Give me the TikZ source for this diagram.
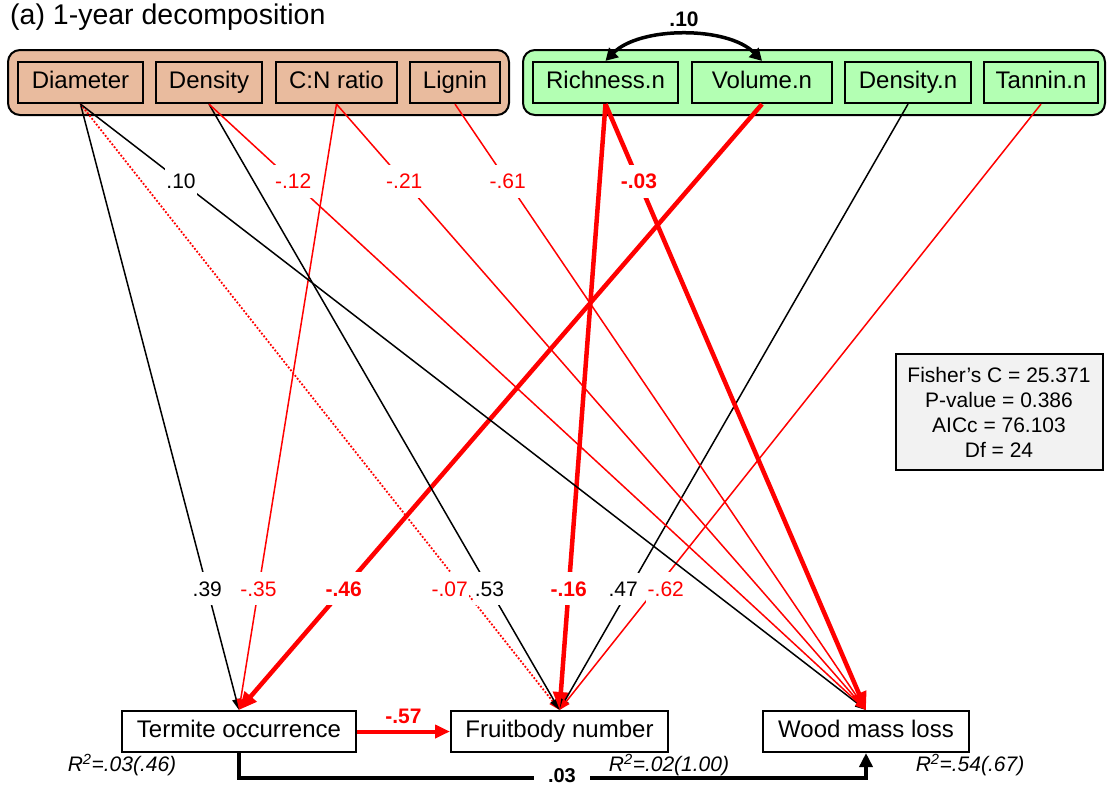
\documentclass[tikz,border=0pt]{standalone}
\usepackage{fontspec}
\setmainfont{Liberation Sans}
\usetikzlibrary{arrows.meta}
\definecolor{brownfill}{RGB}{233,187,158}
\definecolor{greenfill}{RGB}{179,255,179}
\definecolor{statfill}{RGB}{242,242,242}
\begin{document}
\begin{tikzpicture}[x=1pt,y=-1pt,
 grp/.style={draw=black, line width=2pt, rounded corners=12pt, minimum height=65pt, inner sep=0pt},
 var/.style={draw=black, line width=2.2pt, minimum height=41pt, inner sep=0pt, text height=17pt, text depth=5pt, font=\fontsize{24}{28}\selectfont},
 resp/.style={draw=black, fill=white, line width=2pt, minimum height=41pt, inner sep=0pt, text height=17pt, text depth=5pt, font=\fontsize{24}{28}\selectfont},
 thinedge/.style={line width=1.5pt, -{Triangle[length=11pt,width=8pt]}},
 thickedge/.style={line width=4.5pt, -{Triangle[length=18pt,width=15pt]}},
 lab/.style={fill=white, inner xsep=1.5pt, inner ysep=9pt, font=\fontsize{21}{24}\selectfont},
 blab/.style={fill=white, inner xsep=1.5pt, inner ysep=9pt, font=\fontsize{21}{24}\selectfont\bfseries},
 rsq/.style={inner sep=0pt, font=\fontsize{21}{24}\selectfont\itshape},
 ]
\useasboundingbox (0,0) rectangle (1108,785);

\node[anchor=base west, inner sep=0pt, font=\fontsize{28.5}{32}\selectfont] (title) at (10,24) {(a) 1-year decomposition};

\node[grp, fill=brownfill, minimum width=501pt] (gb) at (258.5,82.5) {};
\node[grp, fill=greenfill, minimum width=582pt] (gg) at (814,82.5) {};

\node[var, minimum width=125pt] (diam) at (80.5,82.5) {Diameter};
\node[var, minimum width=106pt] (dens) at (209,82.5) {Density};
\node[var, minimum width=121pt] (cn) at (336.5,82.5) {C:N ratio};
\node[var, minimum width=90pt] (lig) at (455,82.5) {Lignin};
\node[var, minimum width=145pt] (rich) at (605.5,82.5) {Richness.n};
\node[var, minimum width=140pt] (vol) at (762,82.5) {Volume.n};
\node[var, minimum width=126pt] (densn) at (908,82.5) {Density.n};
\node[var, minimum width=114pt] (tan) at (1041,82.5) {Tannin.n};

\node[resp, minimum width=234pt] (term) at (239,731.5) {Termite occurrence};
\node[resp, minimum width=217pt] (fruit) at (559.5,731.5) {Fruitbody number};
\node[resp, minimum width=206pt] (wood) at (866,731.5) {Wood mass loss};

% edges to termite
\draw[thinedge] (diam.south) -- node[lab, pos=0.8] {.39} (term.north);
\draw[thinedge, red] (cn.south) -- node[lab, text=red, pos=0.8] {-.35} (term.north);
\draw[thickedge, red] (vol.south) -- node[blab, text=red, pos=0.8] {-.46} (term.north);

% edges to fruitbody
\draw[thinedge, red, line width=1.8pt, dash pattern=on 1.8pt off 1.8pt] (diam.south) -- node[lab, text=red, pos=0.8, xshift=-14pt] {-.07} (fruit.north);
\draw[thinedge] (dens.south) -- node[lab, pos=0.8] {.53} (fruit.north);
\draw[thickedge, red] (rich.south) -- node[blab, text=red, pos=0.8] {-.16} (fruit.north);
\draw[thinedge] (densn.south) -- node[lab, pos=0.8, xshift=-6pt] {.47} (fruit.north);
\draw[thinedge, red] (tan.south) -- node[lab, text=red, pos=0.8, xshift=10pt] {-.62} (fruit.north);

% edges to wood
\draw[thinedge] (diam.south) -- node[lab, pos=0.128] {.10} (wood.north);
\draw[thinedge, red] (dens.south) -- node[lab, text=red, pos=0.128] {-.12} (wood.north);
\draw[thinedge, red] (cn.south) -- node[lab, text=red, pos=0.128] {-.21} (wood.north);
\draw[thinedge, red] (lig.south) -- node[lab, text=red, pos=0.128] {-.61} (wood.north);
\draw[thickedge, red] (rich.south) -- node[blab, text=red, pos=0.128] {-.03} (wood.north);

% covariance
\draw[line width=3.5pt, {Triangle[length=12pt,width=13pt]}-{Triangle[length=12pt,width=13pt]}] (rich.north) .. controls (640,26) and (728,26) .. (vol.north);
\node[inner sep=0pt, font=\fontsize{21}{24}\selectfont\bfseries] (cov) at (684,19) {.10};

% termite -> fruitbody
\draw[line width=4pt, red, -{Triangle[length=15pt,width=13pt]}] (term.east) -- node[above=6pt, inner sep=0pt, text=red, font=\fontsize{21}{24}\selectfont\bfseries] {-.57} (fruit.west);

% termite -> wood
\coordinate (c1) at (239,778);
\coordinate (c2) at (866,778);
\draw[line width=4pt, -{Triangle[length=14pt,width=13pt]}] (term.south) -- (c1) -- node[pos=0.515, fill=white, inner xsep=14pt, inner ysep=3pt, yshift=2.5pt, font=\fontsize{20}{24}\selectfont\bfseries] {.03} (c2) -- (wood.south);

\node[rsq] (r1) at (122,765) {R\textsuperscript{2}=.03(.46)};
\node[rsq] (r2) at (669,765) {R\textsuperscript{2}=.02(1.00)};
\node[rsq] (r3) at (970,765) {R\textsuperscript{2}=.54(.67)};

\node[draw=black, line width=2pt, fill=statfill, minimum width=207pt, minimum height=116pt, align=center, font=\fontsize{21}{25}\selectfont] (stats) at (999,412) {Fisher’s C = 25.371\\P-value = 0.386\\AICc = 76.103\\Df = 24};
\end{tikzpicture}
\end{document}
